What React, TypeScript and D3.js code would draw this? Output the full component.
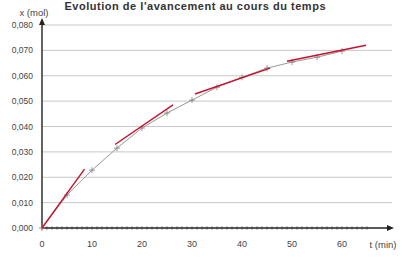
import React from "react";
import * as d3 from "d3";

const title = "Evolution de l'avancement au cours du temps";
const times = [0, 5, 10, 15, 20, 25, 30, 35, 40, 45, 50, 55, 60];
const values = [0, 0.013, 0.0228, 0.0315, 0.0394, 0.0453, 0.0504, 0.0555, 0.0594, 0.063, 0.0654, 0.0673, 0.0697];
const yTicks = [0, 0.01, 0.02, 0.03, 0.04, 0.05, 0.06, 0.07, 0.08];
const xTicks = [0, 10, 20, 30, 40, 50, 60];
const xMinor = d3.range(0, 66, 1);
const tangents: [number, number][][] = [
  [[0, 0], [8.5, 0.0232]],
  [[14.6, 0.0329], [26.2, 0.0485]],
  [[30.6, 0.0528], [45.6, 0.063]],
  [[49, 0.0657], [64.8, 0.072]],
];

export default function App() {
  const W = 403, H = 268;
  const x = d3.scaleLinear().domain([0, 60]).range([42, 342]);
  const y = d3.scaleLinear().domain([0, 0.08]).range([228, 25]);
  const line = d3.line<[number, number]>().x(d => x(d[0])).y(d => y(d[1]));
  const pts: [number, number][] = times.map((t, i) => [t, values[i]]);
  const fmt = (v: number) => v.toFixed(3).replace(".", ",");
  const xEnd = 394;
  return (
    <svg width={W} height={H} style={{ position: "absolute", left: 0, top: 0, background: "#fff" }}
      fontFamily="'Liberation Sans', Arial, sans-serif">
      {yTicks.filter(v => v > 0).map(v => (
        <line key={"g" + v} x1={x(0)} x2={392} y1={y(v)} y2={y(v)} stroke="#c8c8c8" strokeWidth={1} />
      ))}
      {yTicks.map(v => (
        <text key={"yl" + v} x={33} y={y(v) + 3} textAnchor="end" fontSize={8.5} fill="#444">{fmt(v)}</text>
      ))}
      {xMinor.map(t => (
        <line key={"m" + t} x1={x(t)} x2={x(t)} y1={y(0) - 2} y2={y(0) + 2} stroke="#777" strokeWidth={0.7} />
      ))}
      {xTicks.map(t => (
        <text key={"xl" + t} x={x(t)} y={247} textAnchor="middle" fontSize={9} fill="#444">{t}</text>
      ))}
      <line x1={x(0)} x2={xEnd - 5} y1={y(0)} y2={y(0)} stroke="#222" strokeWidth={1.6} />
      <path d={`M${xEnd},${y(0)} L${xEnd - 7},${y(0) - 3} L${xEnd - 7},${y(0) + 3} Z`} fill="#222" />
      <line x1={x(0)} x2={x(0)} y1={y(0)} y2={24} stroke="#222" strokeWidth={1.4} />
      <path d={`M${x(0)},18 L${x(0) - 3},25 L${x(0) + 3},25 Z`} fill="#222" />
      <path d={line(pts) || ""} fill="none" stroke="#999" strokeWidth={1} />
      {pts.map(p => (
        <g key={"p" + p[0]} stroke="#888" strokeWidth={0.9}>
          <line x1={x(p[0]) - 3} x2={x(p[0]) + 3} y1={y(p[1])} y2={y(p[1])} />
          <line x1={x(p[0])} x2={x(p[0])} y1={y(p[1]) - 3} y2={y(p[1]) + 3} />
        </g>
      ))}
      {tangents.map((tg, i) => (
        <path key={"t" + i} d={line(tg) || ""} fill="none" stroke="#c8102e" strokeWidth={1.4} />
      ))}
      <text x={34} y={16} textAnchor="middle" fontSize={9.5} fill="#444">x (mol)</text>
      <text x={383} y={248} textAnchor="middle" fontSize={9.5} fill="#444">t (min)</text>
      <text x={195} y={10} textAnchor="middle" fontSize={11} fontWeight="bold" fill="#333" textLength={261}>{title}</text>
    </svg>
  );
}
